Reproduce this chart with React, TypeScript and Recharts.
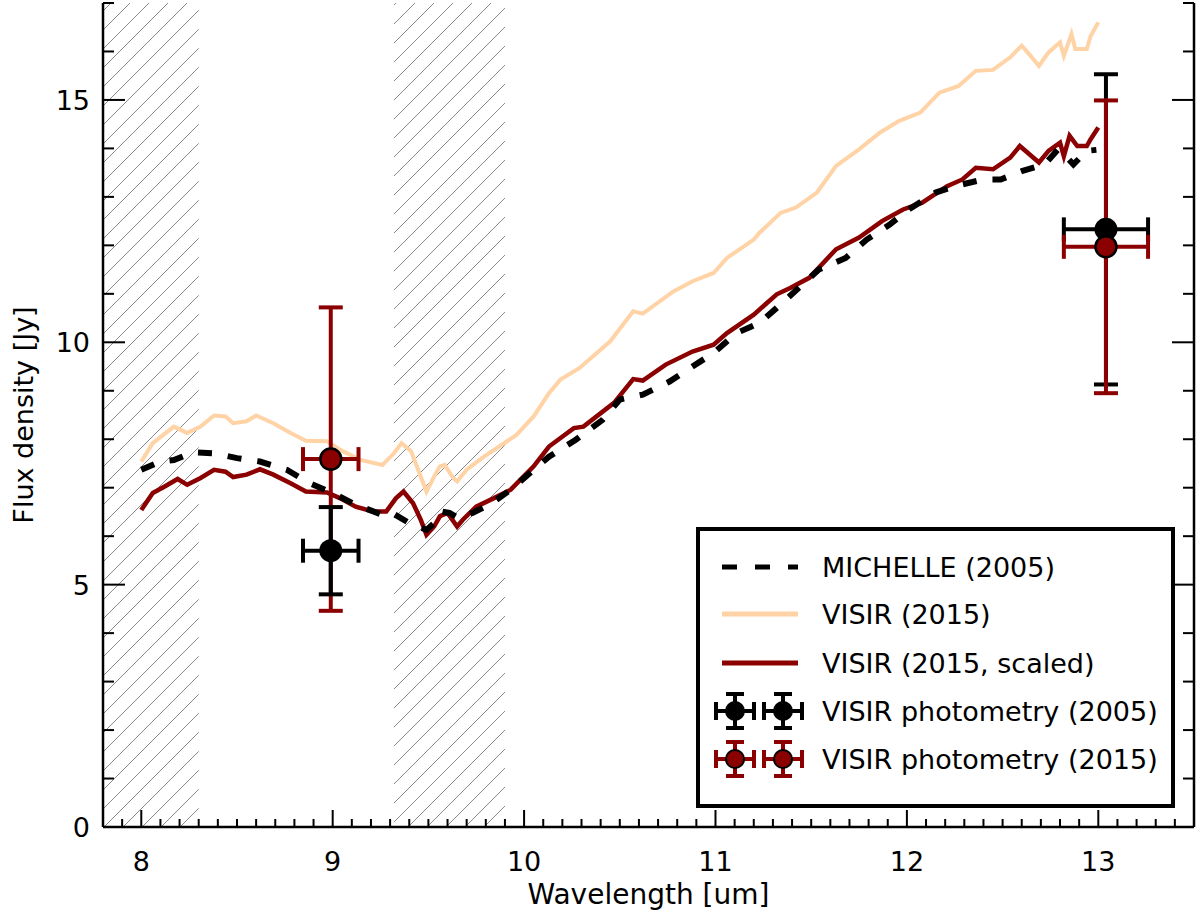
import React from 'react';
import { ComposedChart, Line, Scatter, ErrorBar, XAxis, YAxis, ReferenceArea } from 'recharts';

const FONT = '"DejaVu Sans", Verdana, sans-serif';

// MICHELLE (2005) spectrum
const michelleWave = [
  8.0, 8.1, 8.17, 8.27, 8.38, 8.5, 8.62, 8.76, 8.88, 9.0, 9.12, 9.26, 9.31, 9.4, 9.49, 9.53,
  9.57, 9.61, 9.66, 9.73, 9.82, 9.93, 10.05, 10.13, 10.27, 10.41, 10.5, 10.62, 10.76, 10.88,
  10.99, 11.11, 11.23, 11.32, 11.54, 11.68, 11.79, 11.91, 12.01, 12.15, 12.27, 12.4, 12.49,
  12.6, 12.72, 12.79, 12.83, 12.87, 12.94, 12.99,
];
const michelleFlux = [
  7.37, 7.54, 7.57, 7.73, 7.71, 7.61, 7.54, 7.37, 7.09, 6.89, 6.65, 6.44, 6.48, 6.27, 6.13, 6.27,
  6.51, 6.48, 6.37, 6.48, 6.65, 6.96, 7.37, 7.64, 7.99, 8.4, 8.82, 8.92, 9.19, 9.5,
  9.78, 10.19, 10.4, 10.71, 11.5, 11.74, 12.12, 12.43, 12.74, 13.09, 13.24, 13.36, 13.36,
  13.53, 13.67, 13.98, 13.84, 13.67, 13.95, 13.97,
];

// VISIR (2015) spectrum
const visirWave = [
  8.0, 8.06, 8.17, 8.24, 8.31, 8.38, 8.44, 8.48, 8.55, 8.6, 8.69, 8.78, 8.86, 8.97, 9.04, 9.14,
  9.26, 9.32, 9.36, 9.41, 9.46, 9.49, 9.53, 9.56, 9.585, 9.63, 9.65, 9.7, 9.79, 9.87, 9.96,
  10.05, 10.13, 10.19, 10.29, 10.45, 10.57, 10.62, 10.78, 10.88, 10.99, 11.06, 11.2, 11.23,
  11.34, 11.42, 11.53, 11.63, 11.75, 11.86, 11.96, 12.07, 12.17, 12.27, 12.36, 12.45, 12.54,
  12.6, 12.64, 12.69, 12.74, 12.8, 12.82, 12.86, 12.88, 12.94, 12.96, 13.0,
];
const visirFlux = [
  7.54, 7.92, 8.26, 8.13, 8.26, 8.49, 8.47, 8.33, 8.37, 8.49, 8.33, 8.13, 7.97, 7.96, 7.78, 7.58,
  7.47, 7.71, 7.92, 7.75, 7.23, 6.92, 7.23, 7.44, 7.47, 7.2, 7.13, 7.37, 7.64, 7.85, 8.09,
  8.47, 8.95, 9.23, 9.47, 10.02, 10.64, 10.59, 11.05, 11.26, 11.43, 11.74, 12.12, 12.26,
  12.67, 12.78, 13.09, 13.64, 13.98, 14.33, 14.57, 14.74, 15.15, 15.29, 15.6, 15.62, 15.88,
  16.12, 15.94, 15.7, 15.98, 16.19, 15.91, 16.36, 16.05, 16.05, 16.32, 16.6,
];

// VISIR (2015, scaled) spectrum
const scaledWave = [
  8.0, 8.06, 8.12, 8.19, 8.24, 8.31, 8.38, 8.44, 8.48, 8.55, 8.62, 8.69, 8.78, 8.86, 8.97, 9.04,
  9.12, 9.21, 9.28, 9.33, 9.37, 9.42, 9.46, 9.49, 9.53, 9.56, 9.6, 9.65, 9.68, 9.75, 9.84, 9.93,
  10.05, 10.13, 10.26, 10.31, 10.47, 10.57, 10.62, 10.74, 10.88, 10.99, 11.06, 11.2, 11.32,
  11.39, 11.49, 11.63, 11.75, 11.87, 11.98, 12.08, 12.21, 12.29, 12.36, 12.45, 12.54, 12.59,
  12.64, 12.69, 12.74, 12.8, 12.82, 12.85, 12.89, 12.94, 12.96, 13.0,
];
const scaledFlux = [
  6.54, 6.89, 7.02, 7.18, 7.06, 7.2, 7.37, 7.33, 7.22, 7.27, 7.38, 7.27, 7.09, 6.92, 6.9, 6.78,
  6.61, 6.51, 6.51, 6.78, 6.92, 6.68, 6.34, 6.03, 6.2, 6.41, 6.48, 6.2, 6.34, 6.61, 6.78, 6.96,
  7.44, 7.85, 8.23, 8.26, 8.75, 9.24, 9.21, 9.54, 9.81, 9.95, 10.19, 10.57, 10.99,
  11.12, 11.33, 11.92, 12.16, 12.5, 12.74, 12.88, 13.22, 13.36, 13.6, 13.57, 13.81, 14.05,
  13.88, 13.71, 13.95, 14.12, 13.84, 14.26, 14.05, 14.05, 14.19, 14.43,
];

// VISIR photometry
const phot2005Wave = [8.99, 13.04];
const phot2005Flux = [5.7, 12.33];
const phot2005WaveErr = [0.145, 0.22];
const phot2005FluxErr = [0.9, 3.2];

const phot2015Wave = [8.99, 13.04];
const phot2015Flux = [7.59, 11.97];
const phot2015WaveErr = [0.145, 0.22];
const phot2015FluxErr = [3.13, 3.02];

// masked (hatched) wavelength ranges
const maskedRanges = [
  [7.8, 8.3],
  [9.32, 9.9],
];

const xMajorTicks = [8, 9, 10, 11, 12, 13];
const yMajorTicks = [0, 5, 10, 15];
const xTicks = Array.from({ length: 58 }, (_, i) => Math.round(78 + i) / 10);
const yTicks = Array.from({ length: 18 }, (_, i) => i);

const DARK_RED = '#8b0000';
const PEACH = '#ffd3a6';

const zip = (xs: number[], ys: number[]) => xs.map((x, i) => ({ x, y: ys[i] }));
const michelleData = zip(michelleWave, michelleFlux);
const visirData = zip(visirWave, visirFlux);
const scaledData = zip(scaledWave, scaledFlux);

const photPoint = (w: number[], f: number[], we: number[], fe: number[], i: number) => [
  { x: w[i], y: f[i], ex: we[i], ey: fe[i] },
];

const isMajor = (list: number[], v: number) => list.some((m) => Math.abs(m - v) < 1e-6);

const BottomTick = ({ x, y, payload }: any) => {
  const major = isMajor(xMajorTicks, payload.value);
  return (
    <g>
      <line x1={x} x2={x} y1={y} y2={y - (major ? 17 : 8)} stroke="#000" strokeWidth={2} />
      {major && (
        <text x={x} y={y + 44} textAnchor="middle" fontSize={27} fontFamily={FONT} fill="#000">
          {payload.value}
        </text>
      )}
    </g>
  );
};

const TopTick = ({ x, y, payload }: any) => {
  const major = isMajor(xMajorTicks, payload.value);
  return <line x1={x} x2={x} y1={y} y2={y + (major ? 17 : 8)} stroke="#000" strokeWidth={2} />;
};

const LeftTick = ({ x, y, payload }: any) => {
  const major = isMajor(yMajorTicks, payload.value);
  return (
    <g>
      <line x1={x} x2={x + (major ? 22 : 11)} y1={y} y2={y} stroke="#000" strokeWidth={2} />
      {major && (
        <text x={x - 13} y={y + 10} textAnchor="end" fontSize={27} fontFamily={FONT} fill="#000">
          {payload.value}
        </text>
      )}
    </g>
  );
};

const RightTick = ({ x, y, payload }: any) => {
  const major = isMajor(yMajorTicks, payload.value);
  return <line x1={x} x2={x - (major ? 22 : 11)} y1={y} y2={y} stroke="#000" strokeWidth={2} />;
};

const YTitle = ({ viewBox }: any) => {
  const cy = viewBox.y + viewBox.height / 2;
  return (
    <text
      transform={`translate(33, ${cy}) rotate(-90)`}
      textAnchor="middle"
      fontSize={27}
      fontFamily={FONT}
      fill="#000"
    >
      Flux density [Jy]
    </text>
  );
};

const XTitle = ({ viewBox }: any) => {
  const cx = viewBox.x + viewBox.width / 2;
  return (
    <text x={cx} y={904} textAnchor="middle" fontSize={28} fontFamily={FONT} fill="#000">
      Wavelength [um]
    </text>
  );
};

const dot = (r: number, fill: string, stroke?: string) => (p: any) =>
  <circle cx={p.cx} cy={p.cy} r={r} fill={fill} stroke={stroke ?? 'none'} strokeWidth={2.5} />;

const LegendPhot = ({ cx, cy, color, fill }: any) => (
  <g stroke={color} strokeWidth={4}>
    <line x1={cx - 19} x2={cx + 19} y1={cy} y2={cy} />
    <line x1={cx - 19} x2={cx - 19} y1={cy - 9} y2={cy + 9} />
    <line x1={cx + 19} x2={cx + 19} y1={cy - 9} y2={cy + 9} />
    <line x1={cx} x2={cx} y1={cy - 17} y2={cy + 17} />
    <line x1={cx - 9} x2={cx + 9} y1={cy - 17} y2={cy - 17} />
    <line x1={cx - 9} x2={cx + 9} y1={cy + 17} y2={cy + 17} />
    <circle cx={cx} cy={cy} r={9} fill={fill} stroke="#000" strokeWidth={2} />
  </g>
);

const LegendBox = () => {
  const rows = [40, 87, 136, 184, 232];
  const labels = [
    'MICHELLE (2005)',
    'VISIR (2015)',
    'VISIR (2015, scaled)',
    'VISIR photometry (2005)',
    'VISIR photometry (2015)',
  ];
  return (
    <svg width={479} height={281} style={{ position: 'absolute', left: 696, top: 527 }}>
      <rect x={2} y={2} width={475} height={277} fill="#fff" stroke="#000" strokeWidth={4} />
      <line x1={26} x2={102} y1={rows[0]} y2={rows[0]} stroke="#000" strokeWidth={5} strokeDasharray="15 18" />
      <line x1={26} x2={102} y1={rows[1]} y2={rows[1]} stroke={PEACH} strokeWidth={5} />
      <line x1={26} x2={102} y1={rows[2]} y2={rows[2]} stroke={DARK_RED} strokeWidth={5} />
      <LegendPhot cx={39} cy={rows[3]} color="#000" fill="#000" />
      <LegendPhot cx={87} cy={rows[3]} color="#000" fill="#000" />
      <LegendPhot cx={39} cy={rows[4]} color={DARK_RED} fill={DARK_RED} />
      <LegendPhot cx={87} cy={rows[4]} color={DARK_RED} fill={DARK_RED} />
      {labels.map((l, i) => (
        <text key={l} x={126} y={rows[i] + 10} fontSize={27} fontFamily={FONT} fill="#000">
          {l}
        </text>
      ))}
    </svg>
  );
};

const axisLine = { stroke: '#000', strokeWidth: 2.5 };

const App: React.FC = () => {
  const photSeries = [
    { key: 'r0', data: photPoint(phot2015Wave, phot2015Flux, phot2015WaveErr, phot2015FluxErr, 0), color: DARK_RED, shape: dot(10.5, DARK_RED, '#000') },
    { key: 'b0', data: photPoint(phot2005Wave, phot2005Flux, phot2005WaveErr, phot2005FluxErr, 0), color: '#000', shape: dot(11.5, '#000') },
    { key: 'b1', data: photPoint(phot2005Wave, phot2005Flux, phot2005WaveErr, phot2005FluxErr, 1), color: '#000', shape: dot(11.5, '#000') },
    { key: 'r1', data: photPoint(phot2015Wave, phot2015Flux, phot2015WaveErr, phot2015FluxErr, 1), color: DARK_RED, shape: dot(10.5, DARK_RED, '#000') },
  ];

  return (
    <div style={{ position: 'absolute', left: 0, top: 0, width: 1200, height: 921, background: '#fff' }}>
      <ComposedChart width={1200} height={921} margin={{ top: 3, right: 0, bottom: 0, left: 0 }}>
        <defs>
          <pattern id="hatch" patternUnits="userSpaceOnUse" width={19} height={19}>
            <path d="M0,19 L19,0 M-4,4 L4,-4 M15,23 L23,15" stroke="#8a8a8a" strokeWidth={1} />
          </pattern>
        </defs>
        <XAxis
          xAxisId="b"
          orientation="bottom"
          type="number"
          dataKey="x"
          domain={[7.8, 13.5]}
          allowDataOverflow
          ticks={xTicks}
          interval={0}
          tickSize={0}
          tickMargin={0}
          tick={<BottomTick />}
          axisLine={axisLine}
          height={94}
          label={<XTitle />}
        />
        <XAxis
          xAxisId="t"
          orientation="top"
          type="number"
          dataKey="x"
          domain={[7.8, 13.5]}
          allowDataOverflow
          ticks={xTicks}
          interval={0}
          tickSize={0}
          tickMargin={0}
          tick={<TopTick />}
          axisLine={axisLine}
          height={0}
        />
        <YAxis
          yAxisId="l"
          orientation="left"
          type="number"
          dataKey="y"
          domain={[0, 17]}
          allowDataOverflow
          ticks={yTicks}
          interval={0}
          tickSize={0}
          tickMargin={0}
          tick={<LeftTick />}
          axisLine={axisLine}
          width={103}
          label={<YTitle />}
        />
        <YAxis
          yAxisId="r"
          orientation="right"
          type="number"
          dataKey="y"
          domain={[0, 17]}
          allowDataOverflow
          ticks={yTicks}
          interval={0}
          tickSize={0}
          tickMargin={0}
          tick={<RightTick />}
          axisLine={axisLine}
          width={6}
        />
        {maskedRanges.map(([a, b]) => (
          <ReferenceArea
            key={a}
            xAxisId="b"
            yAxisId="l"
            x1={a}
            x2={b}
            y1={0}
            y2={17}
            fill="url(#hatch)"
            fillOpacity={1}
            stroke="none"
          />
        ))}
        <Line xAxisId="b" yAxisId="l" data={visirData} dataKey="y" type="linear" dot={false} stroke={PEACH} strokeWidth={4} isAnimationActive={false} />
        <Line xAxisId="b" yAxisId="l" data={scaledData} dataKey="y" type="linear" dot={false} stroke={DARK_RED} strokeWidth={4.5} isAnimationActive={false} />
        <Line xAxisId="b" yAxisId="l" data={michelleData} dataKey="y" type="linear" dot={false} stroke="#000" strokeWidth={6} strokeDasharray="14 16" isAnimationActive={false} />
        {photSeries.map((s) => (
          <Scatter key={s.key} xAxisId="b" yAxisId="l" data={s.data} dataKey="y" shape={s.shape} isAnimationActive={false}>
            <ErrorBar dataKey="ey" direction="y" width={12} stroke={s.color} strokeWidth={4} isAnimationActive={false} />
            <ErrorBar dataKey="ex" direction="x" width={12} stroke={s.color} strokeWidth={4} isAnimationActive={false} />
          </Scatter>
        ))}
      </ComposedChart>
      <LegendBox />
    </div>
  );
};

export default App;
